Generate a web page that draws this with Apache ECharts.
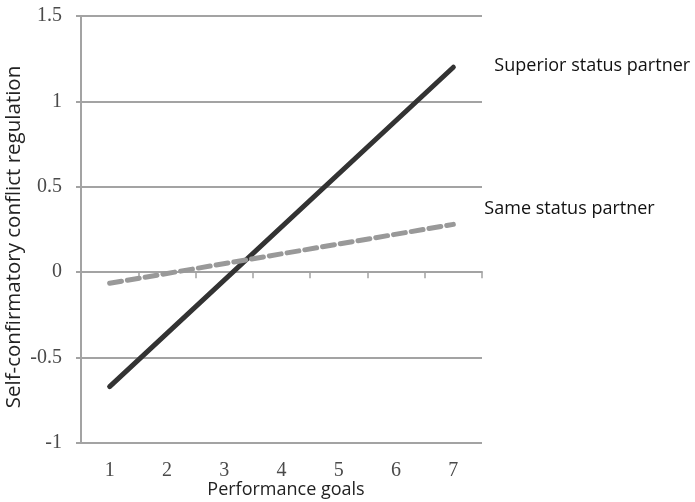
<!DOCTYPE html>
<html>
<head>
<meta charset="utf-8">
<script src="https://cdn.jsdelivr.net/npm/echarts@6/dist/echarts.min.js"></script>
<style>
html,body{margin:0;padding:0;background:#fff;}
#chart{width:695px;height:502px;}
</style>
</head>
<body>
<div id="chart"></div>
<script>
var categories = ['1','2','3','4','5','6','7'];
var superiorPoints = [['1', -0.67], ['7', 1.2]];
var samePoints = [['1', -0.065], ['7', 0.28]];
var seriesNames = ['Superior status partner', 'Same status partner'];
var xTitle = 'Performance goals';
var yTitle = 'Self-confirmatory conflict regulation';

var chart = echarts.init(document.getElementById('chart'));
var gridColor = '#a3a3a3';
var sans = 'Open Sans';
var serif = 'Liberation Serif';

chart.setOption({
  animation: false,
  textStyle: {fontFamily: sans},
  grid: {left: 81, right: 213, top: 16, bottom: 59, outerBoundsMode: 'none', containLabel: false},
  graphic: [{
    type: 'text',
    x: 14, y: 237,
    rotation: Math.PI / 2,
    style: {text: yTitle, fontFamily: sans, fontSize: 20.5, fill: '#222', align: 'center', verticalAlign: 'middle'}
  }, {
    type: 'text',
    x: 286, y: 490,
    style: {text: xTitle, fontFamily: sans, fontSize: 18, fill: '#222', align: 'center', verticalAlign: 'middle'}
  }],
  xAxis: [{
    type: 'category',
    data: categories,
    boundaryGap: true,
    position: 'bottom',
    axisLine: {show: false, onZero: false},
    axisTick: {show: false},
    axisLabel: {margin: 18, fontFamily: serif, fontSize: 20, color: '#4a4a4a'}
  }, {
    type: 'category',
    data: categories,
    boundaryGap: true,
    position: 'bottom',
    axisLine: {show: true, onZero: true, lineStyle: {color: gridColor, width: 2}},
    axisTick: {show: true, length: 6, lineStyle: {color: gridColor, width: 1.5}},
    axisLabel: {show: false}
  }],
  yAxis: {
    type: 'value',
    min: -1, max: 1.5, interval: 0.5,
    axisLine: {show: true, lineStyle: {color: gridColor, width: 2}},
    axisTick: {show: true, length: 5, lineStyle: {color: gridColor, width: 2}},
    splitLine: {show: true, lineStyle: {color: gridColor, width: 2}},
    axisLabel: {margin: 19, fontFamily: serif, fontSize: 20, color: '#4a4a4a'}
  },
  series: [{
    name: seriesNames[0],
    type: 'line',
    xAxisIndex: 0,
    data: superiorPoints,
    symbol: 'none',
    lineStyle: {color: '#333', width: 5, cap: 'round'},
    endLabel: {show: true, formatter: seriesNames[0], offset: [33, -1], fontFamily: sans, fontSize: 18, color: '#111'}
  }, {
    name: seriesNames[1],
    type: 'line',
    xAxisIndex: 0,
    data: samePoints,
    symbol: 'none',
    lineStyle: {color: '#999', width: 5, type: [12, 6], cap: 'round'},
    endLabel: {show: true, formatter: seriesNames[1], offset: [23, -16], fontFamily: sans, fontSize: 18, color: '#111'}
  }]
});
</script>
</body>
</html>
